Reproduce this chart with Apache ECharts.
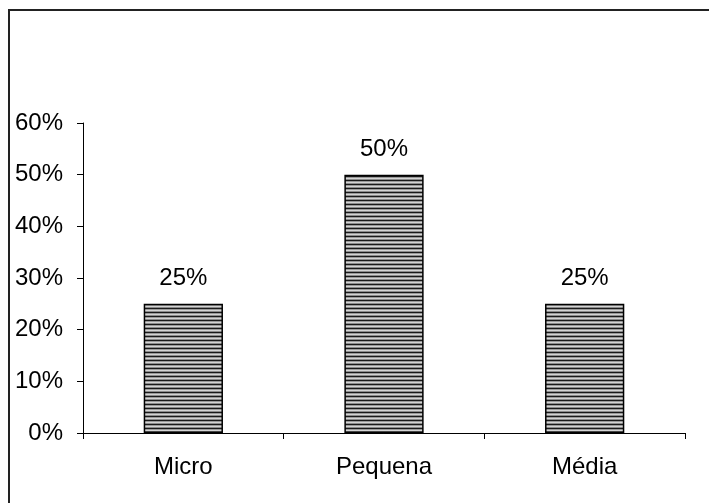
<!DOCTYPE html>
<html>
<head>
<meta charset="utf-8">
<script src="https://cdn.jsdelivr.net/npm/echarts@6/dist/echarts.min.js"></script>
<style>
html,body{margin:0;padding:0;background:#fff;}
#chart{width:709px;height:503px;}
</style>
</head>
<body>
<div id="chart"></div>
<script>
const categories = ['Micro', 'Pequena', 'Média'];
const values = [0.25, 0.50, 0.25];
const yTicks = ['0%', '10%', '20%', '30%', '40%', '50%', '60%'];

function makePattern() {
  const c = document.createElement('canvas');
  c.width = 4; c.height = 4;
  const ctx = c.getContext('2d');
  const rows = ['#1a1a1a', '#9a9a9a', '#d4d4d4', '#8c8c8c'];
  rows.forEach((col, i) => { ctx.fillStyle = col; ctx.fillRect(0, i, 4, 1); });
  return c;
}

const chart = echarts.init(document.getElementById('chart'), null, {renderer: 'canvas'});
const font = 'Liberation Sans, Arial, sans-serif';
chart.setOption({
  animation: false,
  backgroundColor: '#fff',
  graphic: [{
    type: 'rect',
    shape: {x: 9, y: 10, width: 760, height: 560},
    style: {fill: 'none', stroke: '#222', lineWidth: 2},
    silent: true
  }],
  grid: {left: 83, right: 24, top: 123, bottom: 70, containLabel: false},
  xAxis: {
    type: 'category',
    data: categories,
    boundaryGap: true,
    axisLine: {lineStyle: {color: '#000', width: 1}},
    axisTick: {show: true, inside: false, length: 6, alignWithLabel: false, lineStyle: {color: '#000'}},
    axisLabel: {color: '#000', fontSize: 24, fontFamily: font, margin: 22}
  },
  yAxis: {
    type: 'value',
    min: 0, max: 0.6, interval: 0.1,
    splitLine: {show: false},
    axisLine: {show: true, lineStyle: {color: '#000', width: 1}},
    axisTick: {show: true, length: 6, lineStyle: {color: '#000'}},
    axisLabel: {
      color: '#000', fontSize: 24, fontFamily: font, margin: 20,
      formatter: (v) => yTicks[Math.round(v * 10)]
    }
  },
  series: [{
    type: 'bar',
    data: values,
    barWidth: '39.5%',
    itemStyle: {
      color: {image: makePattern(), repeat: 'repeat'},
      borderColor: '#000',
      borderWidth: 1.5
    },
    label: {
      show: true,
      position: 'top',
      distance: 13,
      color: '#000',
      fontSize: 24,
      fontFamily: font,
      formatter: (p) => Math.round(p.value * 100) + '%'
    }
  }]
});
</script>
</body>
</html>
